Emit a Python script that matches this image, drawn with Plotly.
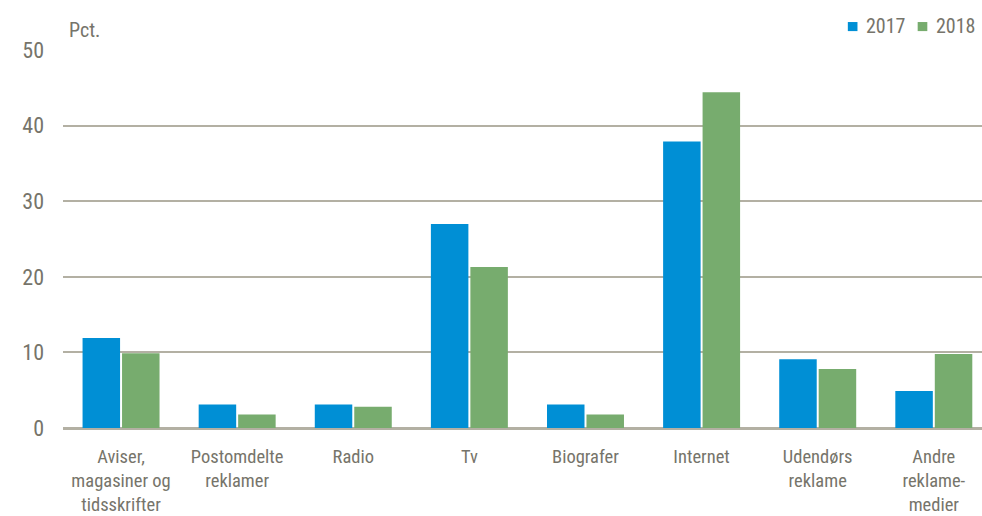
import plotly.graph_objects as go

categories = ["Aviser,<br>magasiner og<br>tidsskrifter", "Postomdelte<br>reklamer", "Radio", "Tv",
              "Biografer", "Internet", "Udendørs<br>reklame", "Andre<br>reklame-<br>medier"]
values_2017 = [11.9, 3.1, 3.1, 27.0, 3.1, 37.9, 9.1, 4.9]
values_2018 = [9.9, 1.8, 2.8, 21.3, 1.8, 44.4, 7.8, 9.8]
series_names = ["2017", "2018"]
series_colors = ["#008fd5", "#77ac6e"]
y_ticks = [0, 10, 20, 30, 40, 50]

FONT = "Roboto Condensed, Liberation Sans, sans-serif"
TXT = "#76746a"
GRID = "#b3b0a3"

fig = go.Figure()
for name, vals, col in zip(series_names, [values_2017, values_2018], series_colors):
    fig.add_trace(go.Bar(x=categories, y=vals, name=name, showlegend=False,
                         marker=dict(color=col, line=dict(width=0))))

# manual legend (small squares close to the text, as in the reference)
legend_x = [0.854, 0.930]
for name, col, lx in zip(series_names, series_colors, legend_x):
    fig.add_shape(type="rect", xref="paper", yref="paper", x0=lx, x1=lx + 0.0105,
                  y0=1.050, y1=1.074, fillcolor=col, line=dict(width=0))
    fig.add_annotation(text=name, x=lx + 0.018, y=1.063, xref="paper", yref="paper",
                       xanchor="left", yanchor="middle", showarrow=False,
                       font=dict(family=FONT, size=20, color=TXT))

fig.update_layout(
    width=982, height=516,
    margin=dict(l=63, r=0, t=50, b=82),
    paper_bgcolor="white", plot_bgcolor="white",
    font=dict(family=FONT, size=19, color=TXT),
    barmode="group", bargap=0.32, bargroupgap=0.05,
    showlegend=False,
    xaxis=dict(showgrid=False, showline=False, ticks="", ticklabelstandoff=15,
               range=[-0.5, 7.415], tickfont=dict(family=FONT, size=18.5, color=TXT)),
    yaxis=dict(range=[0, 50], tickvals=y_ticks, showgrid=True, gridcolor=GRID, gridwidth=2,
               zeroline=True, zerolinecolor=GRID, zerolinewidth=2.5, showline=False,
               ticks="", ticklabelstandoff=18, tickfont=dict(family=FONT, size=22, color=TXT)),
    annotations=list(fig.layout.annotations) + [
        dict(text="Pct.", x=0, y=1.0, xref="paper", yref="paper", xanchor="left",
             yanchor="bottom", yshift=6, xshift=4, showarrow=False,
             font=dict(family=FONT, size=20, color=TXT))],
)

fig.write_html("out.html", config={"displayModeBar": False})
with open("out.html", encoding="utf-8") as f:
    html = f.read()
html = html.replace("<body>", '<body style="margin:0;padding:0;overflow:hidden">', 1)
with open("out.html", "w", encoding="utf-8") as f:
    f.write(html)
